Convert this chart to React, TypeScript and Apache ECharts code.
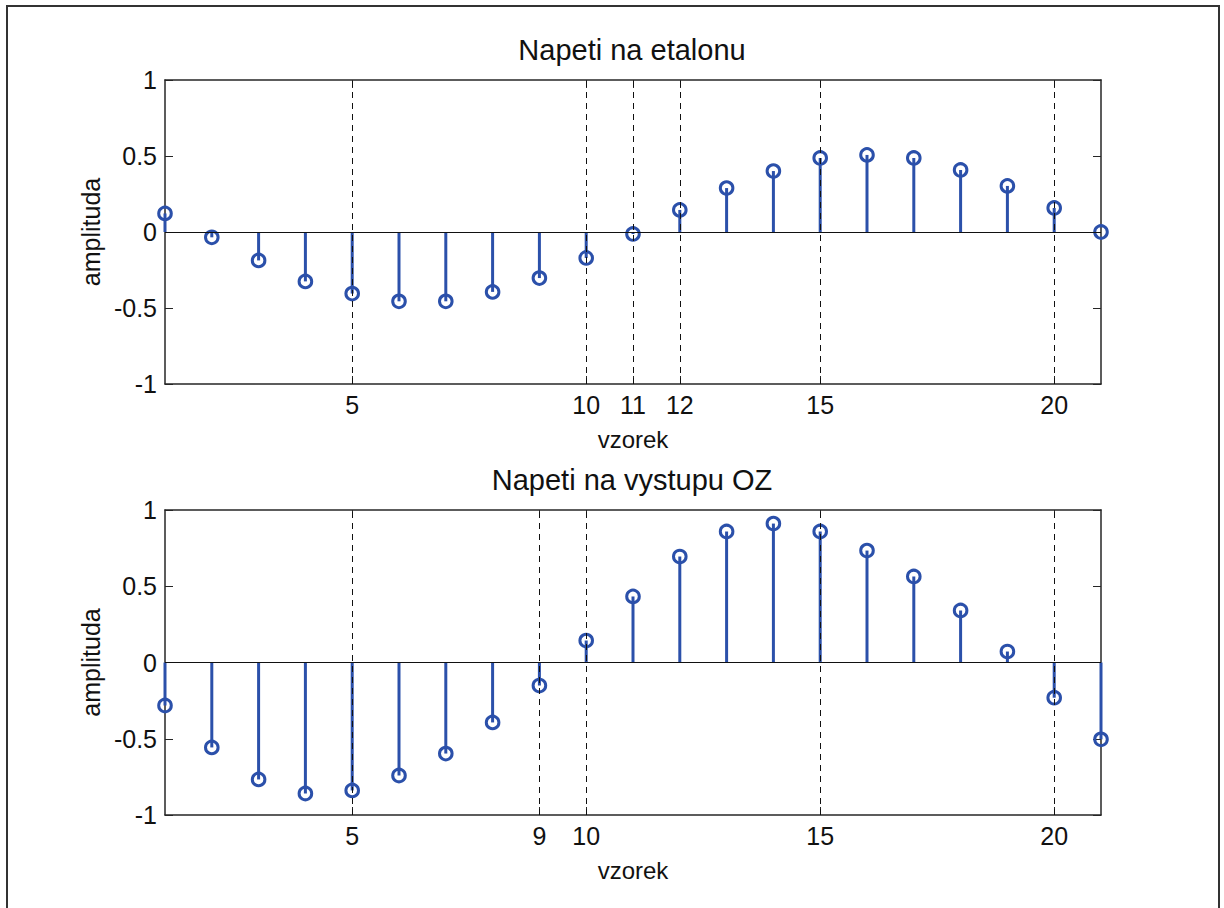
import React, { useEffect, useRef } from "react";
import * as echarts from "echarts";

const SAMPLES = [1, 2, 3, 4, 5, 6, 7, 8, 9, 10, 11, 12, 13, 14, 15, 16, 17, 18, 19, 20, 21];
const TOP_VALUES = [0.122, -0.035, -0.187, -0.325, -0.405, -0.456, -0.456, -0.394, -0.303, -0.171, -0.013, 0.145, 0.289, 0.401, 0.487, 0.507, 0.487, 0.408, 0.303, 0.158, 0.0];
const BOTTOM_VALUES = [-0.282, -0.557, -0.767, -0.859, -0.839, -0.741, -0.597, -0.393, -0.151, 0.144, 0.433, 0.695, 0.859, 0.911, 0.859, 0.734, 0.564, 0.341, 0.072, -0.231, -0.504];
const TOP_XTICKS = [5, 10, 11, 12, 15, 20];
const BOTTOM_XTICKS = [5, 9, 10, 15, 20];
const TITLES = ["Napeti na etalonu", "Napeti na vystupu OZ"];
const X_NAME = "vzorek";
const Y_NAME = "amplituda";

const FONT = '"Liberation Sans", Arial, Helvetica, sans-serif';
const BLUE = "#2B50AA";
const AXIS = "#262626";

export default function App() {
  const ref = useRef<HTMLDivElement>(null);
  useEffect(() => {
    if (!ref.current) return;
    const chart = echarts.init(ref.current, null, { renderer: "svg" });

    const grids = [
      { left: 165, top: 80, width: 936, height: 304 },
      { left: 165, top: 510, width: 936, height: 305 },
    ];
    const ticksList = [TOP_XTICKS, BOTTOM_XTICKS];
    const valuesList = [TOP_VALUES, BOTTOM_VALUES];

    const xAxes: any[] = [];
    const yAxes: any[] = [];
    const series: any[] = [];
    const graphics: any[] = [
      {
        type: "rect",
        shape: { x: 7, y: 6, width: 1212, height: 1000 },
        style: { fill: "none", stroke: "#333", lineWidth: 2 },
        silent: true,
      },
    ];

    grids.forEach((g, i) => {
      const ticks = ticksList[i];
      xAxes.push({
        gridIndex: i,
        type: "value",
        min: 1,
        max: 21,
        position: "bottom",
        axisLine: { show: true, onZero: false, lineStyle: { color: AXIS, width: 1.5 } },
        axisTick: { show: true, inside: true, length: 8, customValues: ticks, lineStyle: { color: AXIS, width: 1 } },
        axisLabel: { customValues: ticks, fontSize: 25, color: "#111", margin: 8, fontFamily: FONT },
        splitLine: { show: false },
        name: X_NAME,
        nameLocation: "middle",
        nameGap: 43,
        nameTextStyle: { fontSize: 24, color: "#111", fontFamily: FONT },
      });
      xAxes.push({
        gridIndex: i,
        type: "value",
        min: 1,
        max: 21,
        position: "top",
        axisLine: { show: true, onZero: false, lineStyle: { color: AXIS, width: 1.5 } },
        axisTick: { show: true, inside: true, length: 8, customValues: ticks, lineStyle: { color: AXIS, width: 1 } },
        axisLabel: { show: false },
        splitLine: { show: false },
      });
      yAxes.push({
        gridIndex: i,
        type: "value",
        min: -1,
        max: 1,
        interval: 0.5,
        position: "left",
        axisLine: { show: true, onZero: false, lineStyle: { color: AXIS, width: 1.5 } },
        axisTick: { show: true, inside: true, length: 8, lineStyle: { color: AXIS, width: 1 } },
        axisLabel: { fontSize: 25, color: "#111", margin: 8, fontFamily: FONT },
        splitLine: { show: false },
        name: Y_NAME,
        nameLocation: "middle",
        nameRotate: 90,
        nameGap: 60,
        nameTextStyle: { fontSize: 25, color: "#111", fontFamily: FONT },
      });
      yAxes.push({
        gridIndex: i,
        type: "value",
        min: -1,
        max: 1,
        interval: 0.5,
        position: "right",
        axisLine: { show: true, onZero: false, lineStyle: { color: AXIS, width: 1.5 } },
        axisTick: { show: true, inside: true, length: 8, lineStyle: { color: AXIS, width: 1 } },
        axisLabel: { show: false },
        splitLine: { show: false },
      });

      // grid dashed lines and zero baseline
      series.push({
        type: "line",
        xAxisIndex: i * 2,
        yAxisIndex: i * 2,
        data: [],
        z: 1,
        silent: true,
        markLine: {
          silent: true,
          symbol: ["none", "none"],
          label: { show: false },
          lineStyle: { type: [6, 5], color: "#111", width: 1 },
          data: [
            ...ticks.map((v) => ({ xAxis: v })),
            { yAxis: 0, lineStyle: { type: "solid", color: "#111", width: 1 } },
          ],
        },
      });

      // stems
      series.push({
        type: "custom",
        xAxisIndex: i * 2,
        yAxisIndex: i * 2,
        z: 3,
        encode: { x: 0, y: 1 },
        data: SAMPLES.map((x, k) => [x, valuesList[i][k]]),
        renderItem: (params: any, api: any) => {
          const x = api.value(0);
          const y = api.value(1);
          const p0 = api.coord([x, 0]);
          const p1 = api.coord([x, y]);
          return {
            type: "group",
            children: [
              {
                type: "line",
                shape: { x1: p0[0], y1: p0[1], x2: p1[0], y2: p1[1] },
                style: { stroke: BLUE, lineWidth: 3 },
              },
              {
                type: "circle",
                shape: { cx: p1[0], cy: p1[1], r: 6.3 },
                style: { fill: "none", stroke: BLUE, lineWidth: 3 },
              },
            ],
          };
        },
      });

      graphics.push({
        type: "text",
        x: g.left + g.width / 2 - 1,
        y: g.top - 30,
        silent: true,
        style: {
          text: TITLES[i],
          textAlign: "center",
          textVerticalAlign: "middle",
          fontSize: 29,
          fontFamily: FONT,
          fill: "#111",
        },
      });
    });

    chart.setOption({
      animation: false,
      backgroundColor: "#fff",
      grid: grids,
      xAxis: xAxes,
      yAxis: yAxes,
      series,
      graphic: graphics,
    });
    return () => chart.dispose();
  }, []);

  return (
    <div
      ref={ref}
      style={{ position: "absolute", left: 0, top: 0, width: 1224, height: 908 }}
    />
  );
}
